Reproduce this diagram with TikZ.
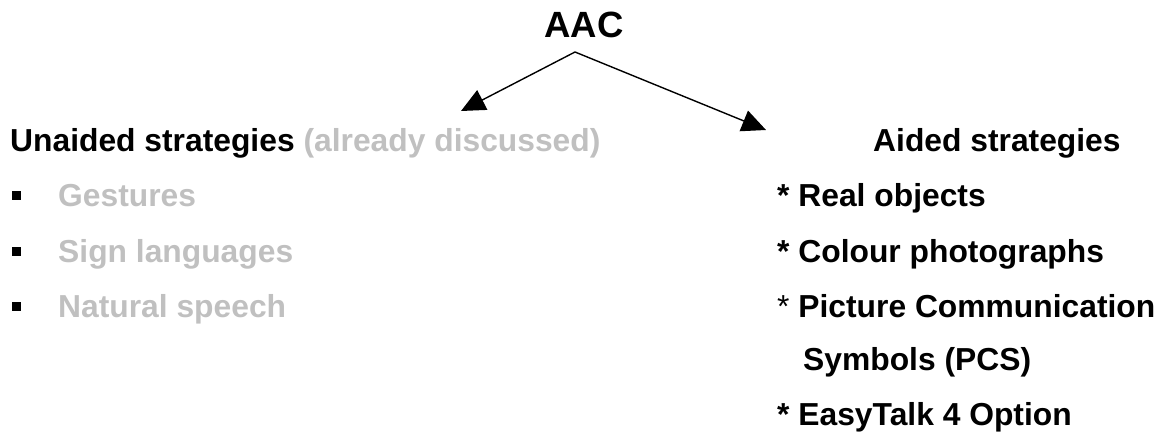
\documentclass[tikz,border=0pt]{standalone}
\usepackage{fontspec}
\setmainfont{Liberation Sans}
\usetikzlibrary{arrows.meta}
\definecolor{lightgrey}{RGB}{192,192,192}
\begin{document}
\begin{tikzpicture}[x=1pt,y=-1pt,
  txt/.style={anchor=base west,inner sep=0pt,font=\fontsize{31.8}{38}\selectfont\bfseries},
  greytxt/.style={txt,text=lightgrey},
  bulletsq/.style={fill=black,minimum size=9pt,inner sep=0pt},
  arrowline/.style={line width=1.4pt,-{Triangle[length=24pt,width=22pt]}}]
\useasboundingbox (0,0) rectangle (1161,433);
\node[txt,anchor=base,font=\fontsize{36.5}{40}\selectfont\bfseries] (aac) at (584,38) {AAC};
\coordinate (top) at (575,52);
\coordinate (lefttip) at (461,111);
\coordinate (righttip) at (766,130);
\draw[arrowline] (top) -- (lefttip);
\draw[arrowline] (top) -- (righttip);
% left column
\node[txt] (unaided) at (10,151) {Unaided strategies \textcolor{lightgrey}{(already discussed)}};
\node[bulletsq] (b1) at (16,195) {};
\node[bulletsq] (b2) at (16,251) {};
\node[bulletsq] (b3) at (16,306) {};
\node[greytxt] (gest) at (58,206) {Gestures};
\node[greytxt] (sign) at (58,262) {Sign languages};
\node[greytxt] (nat) at (58,317) {Natural speech};
% right column
\node[txt] (aided) at (873,151) {Aided strategies};
\node[txt] (real) at (777,206) {* Real objects};
\node[txt] (colour) at (777,262) {* Colour photographs};
\node[txt] (pcs1) at (777,317) {\mdseries*\bfseries\ Picture Communication};
\node[txt] (pcs2) at (803,370) {Symbols (PCS)};
\node[txt] (easy) at (777,425) {* EasyTalk 4 Option};
\end{tikzpicture}
\end{document}
